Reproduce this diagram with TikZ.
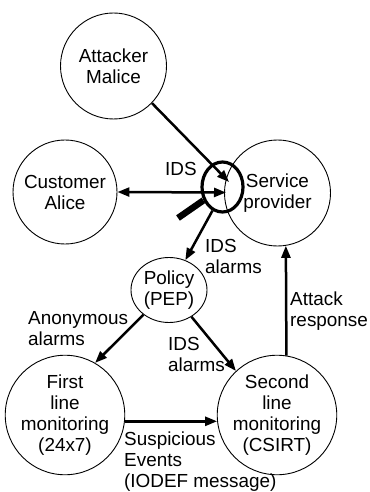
\documentclass[tikz,border=0pt]{standalone}
\usepackage{fontspec}
\setmainfont{Liberation Sans}
\usetikzlibrary{arrows.meta,shapes.geometric}
\begin{document}
\begin{tikzpicture}[x=1bp,y=-1bp,
  txt/.style={font=\fontsize{18.9bp}{21bp}\selectfont},
  party/.style={circle, draw, line width=0.9bp, inner sep=0pt,
    minimum size=#1, align=center, txt},
  % multi-line labels: the base anchor sits on the last line's baseline
  lbl/.style={txt, inner sep=0pt, align=left, anchor=base west},
  flow/.style={line width=2.5bp, -{Triangle[length=12bp,width=9bp]}},
  flow2/.style={line width=2.5bp, {Triangle[length=12bp,width=9bp]}-{Triangle[length=12bp,width=9bp]}},
  lensring/.style={ellipse, draw, line width=3.2bp, inner sep=0pt,
    minimum width=41bp, minimum height=50bp},
  handle/.style={line width=6.5bp}]
\useasboundingbox (0,0) rectangle (369,492);

% parties
\node[party=106bp] (att) at (113.5,66) {Attacker\\Malice};
\node[party=104bp] (cust) at (65,192) {Customer\\Alice};
\node[party=106bp] (svc) at (277.5,193) {Service\\provider};
\node[ellipse, draw, line width=0.9bp, inner sep=0pt, minimum width=76bp,
  minimum height=65bp, align=center, txt] (pol) at (169,290) {Policy\\(PEP)};
\node[party=104bp] (first) at (65,415) {First\\line\\monitoring\\(24x7)};
\node[party=106bp] (second) at (277,415) {Second\\line\\monitoring\\(CSIRT)};

% IDS magnifying glass on the provider's border
\node[lensring] (lens) at (222.5,187) {};
\coordinate (hnd) at (178,218);
\draw[handle] (lens.215) -- (hnd);

% traffic reaching the provider
\coordinate (hitA) at (229,182);
\coordinate (hitC) at (226,192.5);
\draw[flow] (att.-44) -- (hitA);
\draw[flow2] (cust.east) -- (hitC);

% alarm flows
\draw[flow] (lens.-113) -- (pol);
\draw[flow] (pol.224) -- (first.60);
\draw[flow] (pol.-50) -- (second.133);
\draw[flow] (first.-6.6) -- (second.186.5);
\draw[flow] (second.81.3) -- (svc.-81.9);

% labels
\node[lbl] (lIDS) at (165,176) {IDS};
\node[lbl] (lAl1) at (205,273) {IDS\\alarms};
\node[lbl] (lAno) at (28,345) {Anonymous\\alarms};
\node[lbl] (lAl2) at (168,371) {IDS\\alarms};
\node[lbl] (lAtt) at (290,326) {Attack\\response};
\node[lbl] (lSus) at (124,487) {Suspicious\\Events\\(IODEF message)};
\end{tikzpicture}
\end{document}
